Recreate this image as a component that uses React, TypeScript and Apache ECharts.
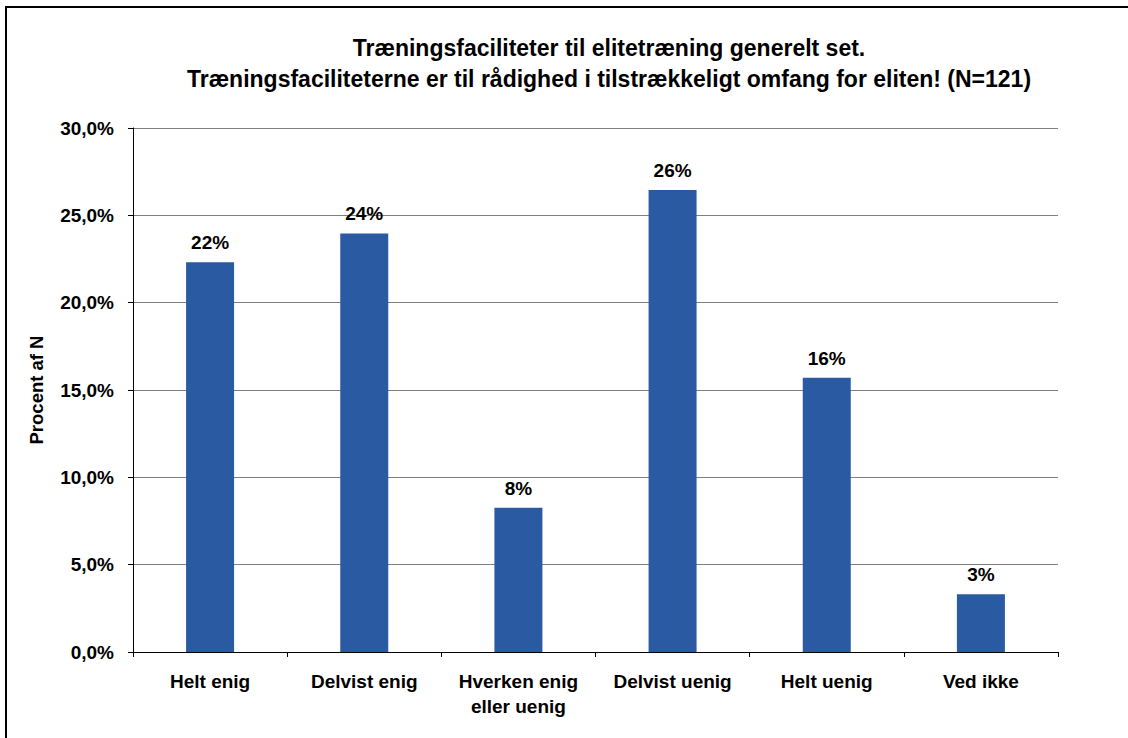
import React, { useEffect, useRef } from "react";
import * as echarts from "echarts";

const titleLines = [
  "Træningsfaciliteter til elitetræning generelt set.",
  "Træningsfaciliteterne er til rådighed i tilstrækkeligt omfang for eliten! (N=121)",
];
const categories = [
  "Helt enig",
  "Delvist enig",
  "Hverken enig\neller uenig",
  "Delvist uenig",
  "Helt uenig",
  "Ved ikke",
];
const counts = [27, 29, 10, 32, 19, 4];
const total = 121;
const percentValues = counts.map((c) => (c / total) * 100);
const yAxisName = "Procent af N";
const yMin = 0;
const yMax = 30;
const yInterval = 5;

const FONT = "'Liberation Sans', Arial, sans-serif";

export default function App() {
  const ref = useRef<HTMLDivElement>(null);
  useEffect(() => {
    if (!ref.current) return;
    const chart = echarts.init(ref.current, undefined, { renderer: "svg" });
    chart.setOption({
      animation: false,
      backgroundColor: "#ffffff",
      title: {
        text: titleLines.join("\n"),
        left: 604,
        top: 27,
        textAlign: "center",
        textStyle: {
          fontFamily: FONT,
          fontWeight: "bold",
          fontSize: 23,
          lineHeight: 31,
          color: "#000",
        },
      },
      graphic: [
        {
          type: "rect",
          shape: { x: 6, y: 7, width: 1300, height: 900 },
          style: { fill: "none", stroke: "#000", lineWidth: 2 },
          silent: true,
        },
      ],
      grid: { left: 133, right: 70, top: 128, bottom: 86 },
      xAxis: {
        type: "category",
        data: categories,
        boundaryGap: true,
        axisLine: { lineStyle: { color: "#000", width: 1 } },
        axisTick: { show: true, length: 5, lineStyle: { color: "#000" } },
        axisLabel: {
          margin: 17,
          fontFamily: FONT,
          fontWeight: "bold",
          fontSize: 19,
          lineHeight: 25,
          color: "#000",
          interval: 0,
        },
      },
      yAxis: {
        type: "value",
        min: yMin,
        max: yMax,
        interval: yInterval,
        name: yAxisName,
        nameLocation: "middle",
        nameGap: 87,
        nameRotate: 90,
        nameTextStyle: {
          fontFamily: FONT,
          fontWeight: "bold",
          fontSize: 18.5,
          color: "#000",
        },
        axisLine: { show: true, lineStyle: { color: "#000", width: 1 } },
        axisTick: { show: true, length: 5, lineStyle: { color: "#000" } },
        splitLine: { show: true, lineStyle: { color: "#808080", width: 1 } },
        axisLabel: {
          margin: 19,
          fontFamily: FONT,
          fontWeight: "bold",
          fontSize: 19,
          color: "#000",
          formatter: (v: number) => v.toFixed(1).replace(".", ",") + "%",
        },
      },
      series: [
        {
          type: "bar",
          data: percentValues,
          barWidth: 48,
          itemStyle: { color: "#2A5AA2" },
          label: {
            show: true,
            position: "top",
            distance: 10,
            fontFamily: FONT,
            fontWeight: "bold",
            fontSize: 19,
            color: "#000",
            formatter: (p: any) => Math.round(p.value) + "%",
          },
        },
      ],
    });
    return () => chart.dispose();
  }, []);
  return (
    <div
      ref={ref}
      style={{ position: "fixed", left: 0, top: 0, width: 1128, height: 738, background: "#fff" }}
    />
  );
}
